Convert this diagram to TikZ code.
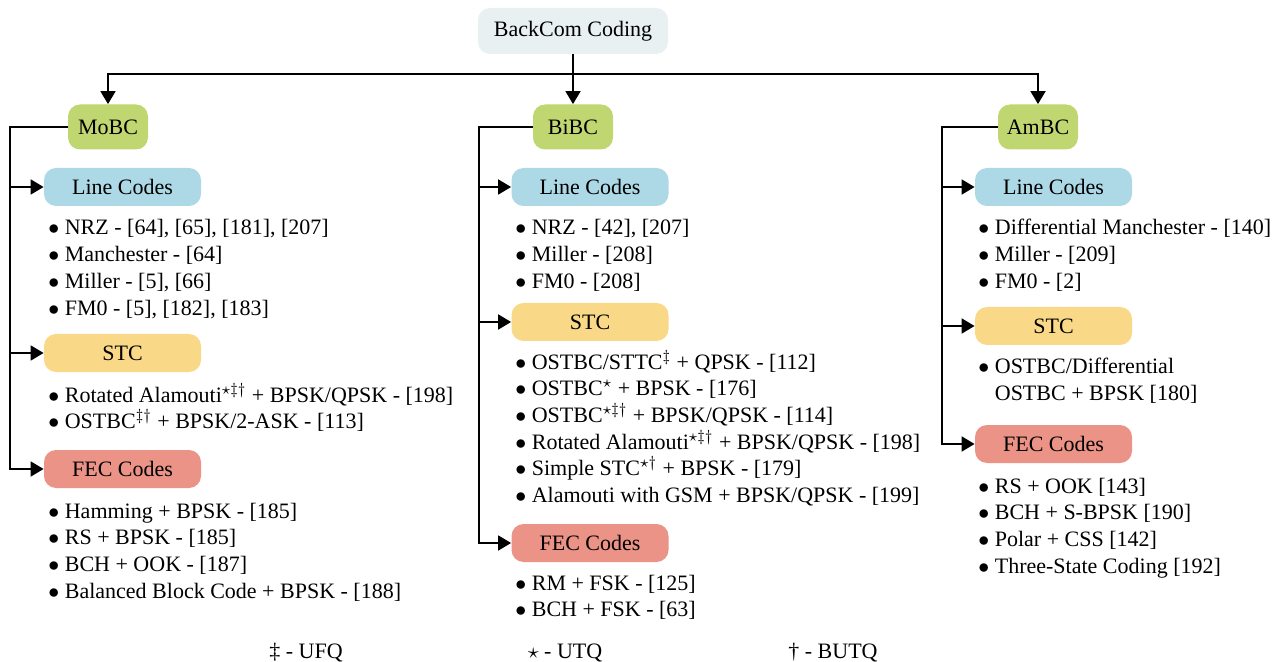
\documentclass[tikz,border=0pt]{standalone}
\usepackage{fontspec}
\setmainfont{Liberation Serif}
\usepackage{amssymb}
\usetikzlibrary{positioning}
\usetikzlibrary{calc, arrows.meta}

\definecolor{rootcol}{RGB}{232,240,242}
\definecolor{schemecol}{RGB}{192,214,112}
\definecolor{linecol}{RGB}{173,216,230}
\definecolor{stccol}{RGB}{249,217,135}
\definecolor{feccol}{RGB}{235,147,134}

\tikzset{
  box/.style={rectangle, rounded corners=6pt, inner sep=0pt, font=\fontsize{11}{13}\selectfont},
  rootbox/.style={box, fill=rootcol, minimum width=95pt, minimum height=23pt},
  schemebox/.style={box, fill=schemecol, minimum width=40pt, minimum height=22.5pt},
  catbox/.style={box, minimum width=78.5pt, minimum height=19pt},
  item/.style={anchor=west, inner sep=0pt, text height=8pt, text depth=0pt, font=\fontsize{11}{13}\selectfont},
  legend/.style={anchor=base, inner sep=0pt, font=\fontsize{11}{13}\selectfont},
  arr/.style={-{Triangle[length=6.5pt,width=7.5pt]}, line width=0.9pt},
}

\begin{document}
\begin{tikzpicture}[x=0.5pt,y=-0.5pt]
      \useasboundingbox (0,0) rectangle (1278,662);

      % top level
      \node[rootbox] (root) at (573,31) {BackCom Coding};
      \node[schemebox] (mobc) at (108,127) {MoBC};
      \node[schemebox] (bibc) at (573,127) {BiBC};
      \node[schemebox] (ambc) at (1038,127) {AmBC};

      \coordinate (bus) at (573,74);
      \draw[arr] (root) -- (bibc);
      \draw[arr] (bus) -| (mobc);
      \draw[arr] (bus) -| (ambc);

      % MoBC
      \node[catbox, fill=linecol] (mline) at (122.5,187) {Line Codes};
      \node[catbox, fill=stccol] (mstc) at (122.5,353) {STC};
      \node[catbox, fill=feccol] (mfec) at (122.5,469) {FEC Codes};
      \coordinate (mtrunk) at (10,127);
      \draw[arr] (mobc) -- (mtrunk) |- (mfec);
      \draw[arr] (mtrunk |- mline) -- (mline);
      \draw[arr] (mtrunk |- mstc) -- (mstc);
      \foreach \t [count=\i] in {{NRZ - [64], [65], [181], [207]}, {Manchester - [64]}, {Miller - [5], [66]}, {FM0 - [5], [182], [183]}}
        \node[item] (ml\i) at (48,227+26.7*\i-26.7) {$\bullet$ \t};
      \foreach \t [count=\i] in {{Rotated Alamouti$^{\star\ddagger\dagger}$ + BPSK/QPSK - [198]}, {OSTBC$^{\ddagger\dagger}$ + BPSK/2-ASK - [113]}}
        \node[item] (ms\i) at (48,394+26.7*\i-26.7) {$\bullet$ \t};
      \foreach \t [count=\i] in {{Hamming + BPSK - [185]}, {RS + BPSK - [185]}, {BCH + OOK - [187]}, {Balanced Block Code + BPSK - [188]}}
        \node[item] (mf\i) at (48,510+26.7*\i-26.7) {$\bullet$ \t};

      % BiBC
      \node[catbox, fill=linecol] (bline) at (590,187) {Line Codes};
      \node[catbox, fill=stccol] (bstc) at (590,322) {STC};
      \node[catbox, fill=feccol] (bfec) at (590,543) {FEC Codes};
      \coordinate (btrunk) at (479,127);
      \draw[arr] (bibc) -- (btrunk) |- (bfec);
      \draw[arr] (btrunk |- bline) -- (bline);
      \draw[arr] (btrunk |- bstc) -- (bstc);
      \foreach \t [count=\i] in {{NRZ - [42], [207]}, {Miller - [208]}, {FM0 - [208]}}
        \node[item] (bl\i) at (515,227+26.7*\i-26.7) {$\bullet$ \t};
      \foreach \t [count=\i] in {{OSTBC/STTC$^{\ddagger}$ + QPSK - [112]}, {OSTBC$^{\star}$ + BPSK - [176]}, {OSTBC$^{\star\ddagger\dagger}$ + BPSK/QPSK - [114]}, {Rotated Alamouti$^{\star\ddagger\dagger}$ + BPSK/QPSK - [198]}, {Simple STC$^{\star\dagger}$ + BPSK - [179]}, {Alamouti with GSM + BPSK/QPSK - [199]}}
        \node[item] (bs\i) at (515,361+26.7*\i-26.7) {$\bullet$ \t};
      \foreach \t [count=\i] in {{RM + FSK - [125]}, {BCH + FSK - [63]}}
        \node[item] (bf\i) at (515,582+26.7*\i-26.7) {$\bullet$ \t};

      % AmBC
      \node[catbox, fill=linecol] (aline) at (1053.5,187) {Line Codes};
      \node[catbox, fill=stccol] (astc) at (1053.5,326) {STC};
      \node[catbox, fill=feccol] (afec) at (1053.5,444) {FEC Codes};
      \coordinate (atrunk) at (942,127);
      \draw[arr] (ambc) -- (atrunk) |- (afec);
      \draw[arr] (atrunk |- aline) -- (aline);
      \draw[arr] (atrunk |- astc) -- (astc);
      \foreach \t [count=\i] in {{Differential Manchester - [140]}, {Miller - [209]}, {FM0 - [2]}}
        \node[item] (al\i) at (978,227+26.7*\i-26.7) {$\bullet$ \t};
      \node[item] (as1) at (978,365) {$\bullet$ OSTBC/Differential};
      \node[item] (as2) at (978,392) {\phantom{$\bullet$ }OSTBC + BPSK [180]};
      \foreach \t [count=\i] in {{RS + OOK [143]}, {BCH + S-BPSK [190]}, {Polar + CSS [142]}, {Three-State Coding [192]}}
        \node[item] (af\i) at (978,485+26.7*\i-26.7) {$\bullet$ \t};

      % legend
      \node[legend] (ufq) at (306,658) {\ddag\ - UFQ};
      \node[legend] (utq) at (565,658) {$\star$ - UTQ};
      \node[legend] (butq) at (833,658) {\dag\ - BUTQ};
\end{tikzpicture}
\end{document}
